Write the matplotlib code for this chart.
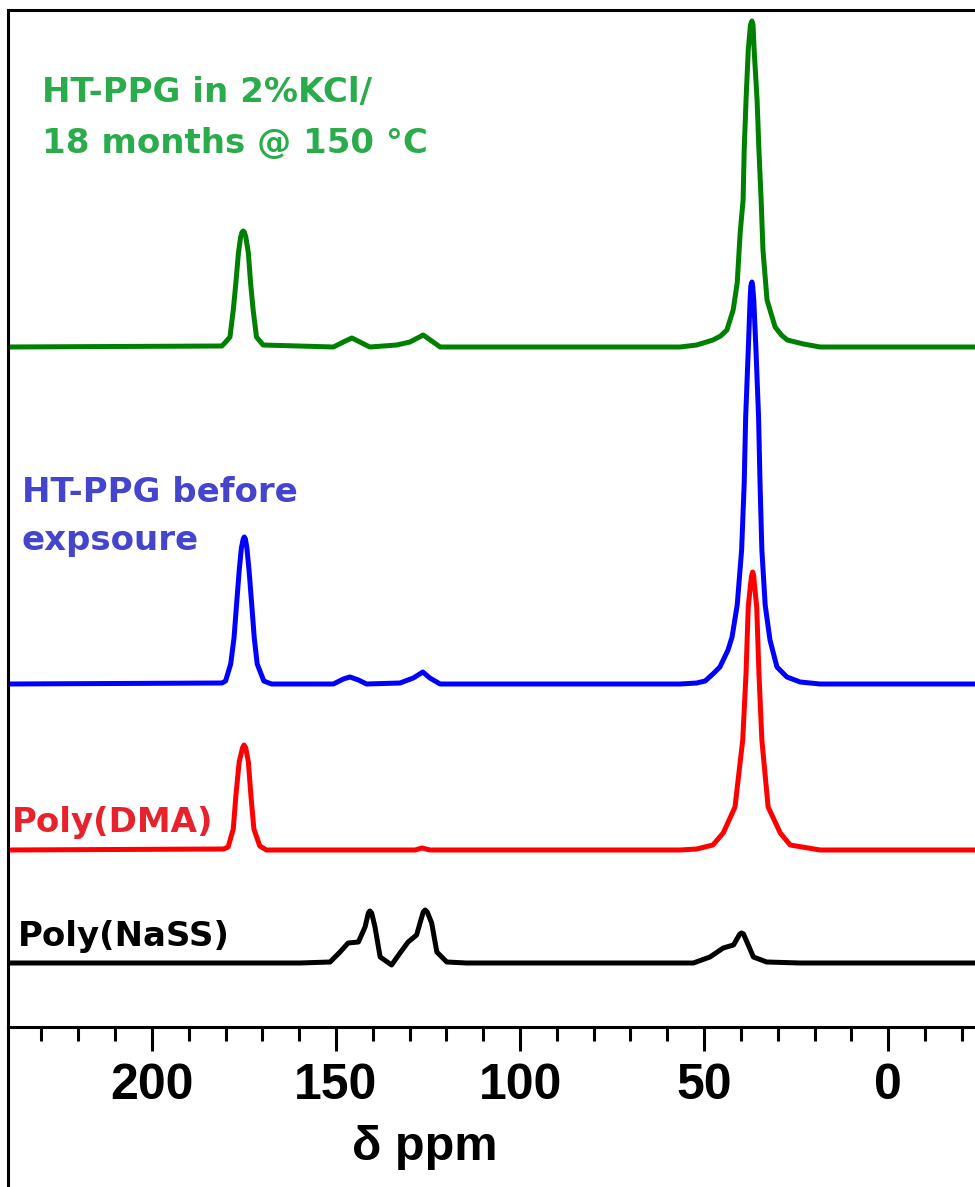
import matplotlib

matplotlib.use("Agg")
import matplotlib.pyplot as plt
from matplotlib.lines import Line2D
from matplotlib.ticker import MultipleLocator

# chemical shift (ppm) and intensity above each trace's own baseline
green_ppm = [239.1, 181.0, 180.2, 178.8, 177.9, 177.2, 176.5, 175.9, 175.5, 175.2, 174.9,
             174.5, 173.8, 173.2, 172.5, 171.6, 169.8, 150.7, 148.0, 145.7, 143.5, 140.8,
             133.5, 129.9, 126.3, 123.6, 121.7, 56.5, 52.0, 47.6, 45.5, 43.8, 42.1, 41.0,
             40.2, 39.4, 39.1, 38.6, 38.0, 37.4, 37.0, 36.7, 36.4, 35.6, 35.1, 34.5,
             34.0, 32.9, 30.7, 29.0, 27.4, 23.0, 18.5, -23.6]
green_int = [0, 1, 4, 10, 37, 64, 94, 110, 115, 116, 115,
             110, 94, 64, 37, 10, 2, 0, 5, 9, 5, 0,
             2, 5, 12, 5, 0, 0, 2, 7, 11, 17, 37, 64,
             114, 147, 197, 247, 297, 322, 326, 322, 297, 247, 197, 147,
             97, 47, 20, 12, 7, 3, 0, 0]

blue_ppm = [239.1, 181.0, 180.0, 178.6, 177.7, 177.0, 176.3, 175.7, 175.2, 174.9, 174.6,
            174.2, 173.6, 172.9, 172.2, 171.4, 169.6, 167.5, 150.7, 148.0, 146.2, 143.9,
            141.7, 132.6, 129.0, 126.4, 124.5, 121.7, 56.5, 52.0, 49.7, 47.6, 45.7, 43.5,
            42.4, 41.0, 39.8, 39.1, 38.7, 38.0, 37.5, 37.3, 37.0, 36.8, 36.5, 35.9,
            35.2, 34.8, 34.3, 33.4, 32.1, 30.2, 27.5, 23.9, 18.5, -23.6]
blue_int = [0, 1, 3, 20, 46, 80, 113, 136, 145, 147, 145,
            136, 113, 80, 46, 20, 3, 0, 0, 5, 7, 4,
            0, 1, 6, 12, 6, 0, 0, 1, 3, 10, 17, 34,
            47, 79, 134, 201, 267, 334, 384, 398, 402, 398, 384, 334,
            267, 201, 134, 79, 44, 17, 7, 2, 0, 0]

red_ppm = [239.1, 180.5, 179.3, 177.9, 177.2, 176.3, 175.4, 175.0, 174.5, 173.8, 173.1,
           172.3, 170.7, 168.9, 128.5, 126.6, 124.5, 56.5, 52.0, 47.6, 44.8, 41.6, 39.5,
           38.6, 38.0, 37.4, 37.1, 36.8, 36.5, 36.3, 35.7, 35.1, 34.3, 32.6, 29.3, 26.6,
           18.5, -23.6]
red_int = [0, 1, 3, 21, 54, 88, 102, 105, 102, 88, 54,
           21, 4, 0, 0, 2, 0, 0, 1, 5, 17, 43, 110,
           177, 243, 265, 274, 278, 274, 265, 243, 177, 110, 43, 17, 5,
           0, 0]

black_ppm = [239.1, 159.8, 151.6, 148.9, 146.7, 143.9, 142.1, 141.2, 140.8, 140.3, 139.4,
             138.0, 134.9, 132.6, 130.4, 128.1, 126.3, 125.8, 125.2, 124.0, 122.6, 119.9,
             114.5, 52.9, 48.4, 44.8, 42.0, 40.3, 39.8, 39.3, 38.0, 36.6, 33.0, 23.9, -23.6]
black_int = [0, 0, 1, 11, 20, 21, 36, 50, 52, 50, 36,
             6, -2, 10, 21, 28, 51, 53, 51, 40, 11, 1,
             0, 0, 6, 15, 18, 29, 30, 29, 18, 6, 1, 0, 0]

# vertical stacking offsets of the traces
offsets = {"green": 680, "blue": 343, "red": 177, "black": 64}

major_ticks = [200, 150, 100, 50, 0]

W, H = 975, 1187
fig = plt.figure(figsize=(W / 100, H / 100), dpi=100)
ax = fig.add_axes([8 / W, 160 / H, (W - 8) / W, 1017 / H])

lw = 3.6
ax.plot(black_ppm, [v + offsets["black"] for v in black_int], color="black", lw=lw)
ax.plot(red_ppm, [v + offsets["red"] for v in red_int], color="#ff0000", lw=lw)
ax.plot(blue_ppm, [v + offsets["blue"] for v in blue_int], color="#0000ff", lw=lw)
ax.plot(green_ppm, [v + offsets["green"] for v in green_int], color="#008000", lw=lw)

ax.set_xlim(239.1, -23.6)
ax.set_ylim(0, 1017)

for side in ("left", "top", "bottom"):
    ax.spines[side].set_linewidth(2.2)
ax.spines["right"].set_visible(False)

ax.set_yticks([])
ax.xaxis.set_major_locator(MultipleLocator(50))
ax.xaxis.set_minor_locator(MultipleLocator(10))
ax.tick_params(axis="x", which="major", direction="out", length=17, width=2.2, pad=9)
ax.tick_params(axis="x", which="minor", direction="out", length=10, width=2.2)
ax.set_xticks(major_ticks)
ax.set_xticklabels([str(t) for t in major_ticks])
for lab in ax.get_xticklabels():
    lab.set_fontfamily("Liberation Sans")
    lab.set_fontweight("bold")
    lab.set_fontsize(36)

ax.set_xlabel("δ ppm", fontfamily="Liberation Sans", fontweight="bold", fontsize=35, va="baseline")
ax.xaxis.set_label_coords((425 - 8) / (W - 8), (1027 - 1160) / 1017)

label_font = dict(fontfamily="DejaVu Sans", fontweight="bold", fontsize=24.5, va="baseline")
ax.text(229.9, 925, "HT-PPG in 2%KCl/", color="#2aab4c", **label_font)
ax.text(229.9, 874, "18 months @ 150 °C", color="#2aab4c", **label_font)
ax.text(235.3, 525, "HT-PPG before", color="#4444cc", **label_font)
ax.text(235.3, 477, "expsoure", color="#4444cc", **label_font)
ax.text(238.0, 195, "Poly(DMA)", color="#e8222c", **label_font)
ax.text(236.4, 81, "Poly(NaSS)", color="black", **label_font)

# outer frame line continues below the axis down to the bottom edge
fig.add_artist(Line2D([8 / W, 8 / W], [0, 160 / H], color="black", lw=2.2, transform=fig.transFigure))

fig.savefig("out.png", dpi=100)
plt.close(fig)
